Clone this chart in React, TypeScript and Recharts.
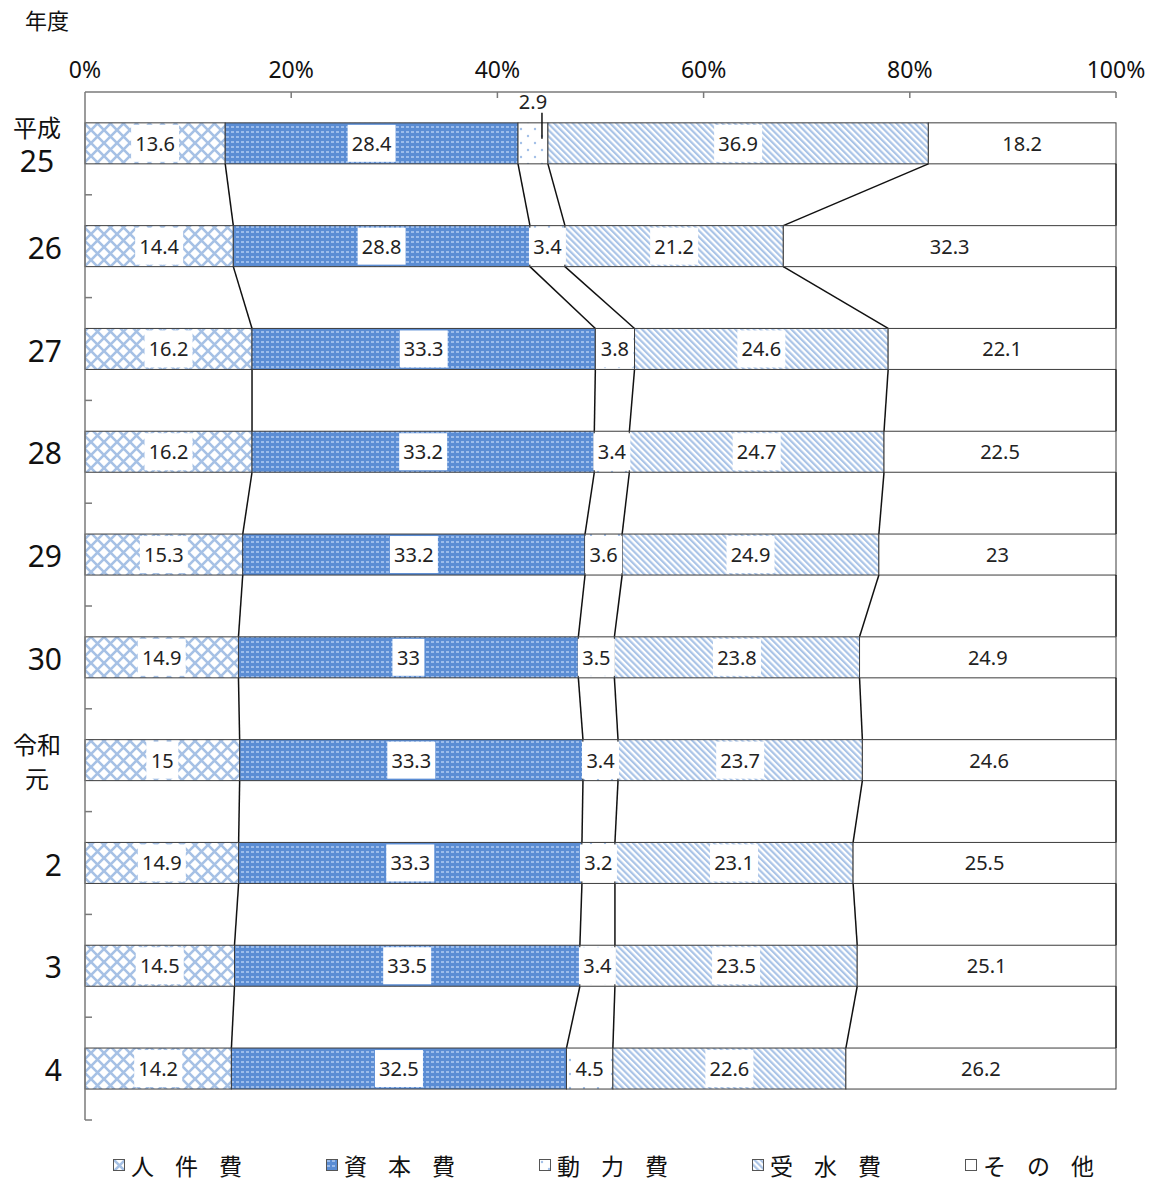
import { BarChart, Bar, XAxis, YAxis, LabelList } from "recharts"

const years = ["平成\n25", "26", "27", "28", "29", "30", "令和\n元", "2", "3", "4"]
const personnel = [13.6, 14.4, 16.2, 16.2, 15.3, 14.9, 15, 14.9, 14.5, 14.2]
const capital = [28.4, 28.8, 33.3, 33.2, 33.2, 33, 33.3, 33.3, 33.5, 32.5]
const power = [2.9, 3.4, 3.8, 3.4, 3.6, 3.5, 3.4, 3.2, 3.4, 4.5]
const water = [36.9, 21.2, 24.6, 24.7, 24.9, 23.8, 23.7, 23.1, 23.5, 22.6]
const other = [18.2, 32.3, 22.1, 22.5, 23, 24.9, 24.6, 25.5, 25.1, 26.2]
const xTicks = [0, 0.2, 0.4, 0.6, 0.8, 1]

const seriesList = [
  { key: "personnel", name: "人件費", values: personnel, fill: "url(#patCross)" },
  { key: "capital", name: "資本費", values: capital, fill: "url(#patCapital)" },
  { key: "power", name: "動力費", values: power, fill: "url(#patDots)" },
  { key: "water", name: "受水費", values: water, fill: "url(#patStripe)" },
  { key: "other", name: "その他", values: other, fill: "#ffffff" },
]

const data = years.map((year, i) => ({
  year,
  personnel: personnel[i],
  capital: capital[i],
  power: power[i],
  water: water[i],
  other: other[i],
}))

// cumulative share at each segment boundary, per row (same as stackOffset="expand")
const boundaries = years.map((_, i) => {
  const vals = seriesList.map((s) => s.values[i])
  const total = vals.reduce((a, b) => a + b, 0)
  let acc = 0
  return vals.map((v) => {
    acc += v
    return acc / total
  })
})

// chart layout
const W = 1158
const H = 1182
const M = { top: 0, right: 42, bottom: 62, left: 0 }
const X_AXIS_H = 92
const Y_AXIS_W = 85
const PLOT_LEFT = M.left + Y_AXIS_W
const PLOT_W = W - PLOT_LEFT - M.right
const PLOT_H = H - M.top - X_AXIS_H - M.bottom
const STEP = PLOT_H / years.length

const font = "'Noto Sans', 'Noto Sans CJK JP', sans-serif"
const jpFont = "'Noto Sans CJK JP', 'Noto Sans', sans-serif"
const axisColor = "#7a7a7a"

function YearTick(props: any) {
  const { x, y, payload } = props
  const lines = String(payload.value).split("\n")
  const tickY = y + STEP / 2
  const tick = <line x1={PLOT_LEFT} y1={tickY} x2={PLOT_LEFT + 7} y2={tickY} stroke={axisColor} strokeWidth={1.5} />
  if (lines.length === 2) {
    return (
      <g>
        {tick}
        <text x={x - 25} y={y - 17} textAnchor="middle" dominantBaseline="central" fontSize={24} fontFamily={jpFont} fill="#111">
          {lines[0]}
        </text>
        <text
          x={x - 25}
          y={y + 17}
          textAnchor="middle"
          dominantBaseline="central"
          fontSize={lines[1] === "元" ? 24 : 30}
          fontFamily={lines[1] === "元" ? jpFont : font}
          fill="#111"
        >
          {lines[1]}
        </text>
      </g>
    )
  }
  return (
    <g>
      {tick}
      <text x={x} y={y + 1} textAnchor="end" dominantBaseline="central" fontSize={30} fontFamily={font} fill="#111">
        {lines[0]}
      </text>
    </g>
  )
}

function PercentTick(props: any) {
  const { x, y, payload } = props
  const axisY = M.top + X_AXIS_H
  return (
    <g>
      {payload.value > 0 && <line x1={x} y1={axisY} x2={x} y2={axisY + 6} stroke={axisColor} strokeWidth={1.5} />}
      <text x={x} y={y} textAnchor="middle" fontSize={23} fontFamily={font} fill="#111">
        {`${Math.round(payload.value * 100)}%`}
      </text>
    </g>
  )
}

// bar segment plus the series line down to the same boundary in the next row
function SegmentShape(props: any, k: number) {
  const { x, y, width, height, index, fill } = props
  const bg = props.background && props.background.width ? props.background : { x: PLOT_LEFT, width: PLOT_W }
  const next = boundaries[index + 1]
  return (
    <g>
      <rect x={x} y={y} width={width} height={height} fill={fill} stroke="#3c3c3c" strokeWidth={1} />
      {next && (
        <line
          x1={x + width}
          y1={y + height}
          x2={bg.x + next[k] * bg.width}
          y2={y + STEP}
          stroke="#111"
          strokeWidth={1.5}
        />
      )}
    </g>
  )
}

function ValueLabel(props: any) {
  const vb = props.viewBox && props.viewBox.width !== undefined ? props.viewBox : props
  const { x, y, width, height } = vb
  const raw = props.index !== undefined ? props.values[props.index] : props.value
  const text = String(raw)
  const cx = x + width / 2
  const cy = y + height / 2
  if (raw < 3) {
    return (
      <g>
        <text x={cx} y={y - 21} textAnchor="middle" dominantBaseline="central" fontSize={20} fontFamily={font} fill="#222">
          {text}
        </text>
        <line x1={cx + 9} y1={y - 10} x2={cx + 9} y2={y + 16} stroke="#111" strokeWidth={1.5} />
      </g>
    )
  }
  const digits = text.replace(".", "").length
  const w = digits * 11 + (text.includes(".") ? 5 : 0) + 10
  return (
    <g>
      <rect x={cx - w / 2} y={y + 2} width={w} height={height - 4} fill="#ffffff" />
      <text x={cx} y={cy} textAnchor="middle" dominantBaseline="central" fontSize={20} fontFamily={font} fill="#222">
        {text}
      </text>
    </g>
  )
}

function Patterns() {
  return (
    <defs>
      <pattern id="patCross" patternUnits="userSpaceOnUse" width={13} height={13}>
        <rect width={13} height={13} fill="#ffffff" />
        <path d="M-2,-2 L15,15 M15,-2 L-2,15" stroke="#a6c1e5" strokeWidth={2.6} />
      </pattern>
      <pattern id="patCapital" patternUnits="userSpaceOnUse" width={5} height={5}>
        <rect width={5} height={5} fill="#5b8dd4" />
        <rect x={1} y={1} width={3} height={2} fill="#9cbcea" />
      </pattern>
      <pattern id="patDots" patternUnits="userSpaceOnUse" width={14} height={14}>
        <rect width={14} height={14} fill="#ffffff" />
        <circle cx={3} cy={3} r={1.2} fill="#a3c0e8" />
        <circle cx={10} cy={10} r={1.2} fill="#a3c0e8" />
      </pattern>
      <pattern id="patStripe" patternUnits="userSpaceOnUse" width={4.4} height={4.4} patternTransform="rotate(-45)">
        <rect width={4.4} height={4.4} fill="#ffffff" />
        <rect x={0} y={0} width={2.2} height={4.4} fill="#aac4e7" />
      </pattern>
    </defs>
  )
}

export default function App() {
  return (
    <div style={{ position: "absolute", left: 0, top: 0, width: W, height: H, background: "#fff", overflow: "hidden" }}>
      <div style={{ position: "absolute", left: 25, top: 6, fontSize: 22, lineHeight: "26px", fontFamily: jpFont, color: "#111" }}>
        年度
      </div>
      <BarChart
        width={W}
        height={H}
        data={data}
        layout="vertical"
        stackOffset="expand"
        barCategoryGap="30%"
        margin={M}
      >
        <Patterns />
        <XAxis
          type="number"
          orientation="top"
          domain={[0, 1]}
          ticks={xTicks}
          height={X_AXIS_H}
          tickLine={false}
          tickSize={0}
          tickMargin={14}
          axisLine={{ stroke: axisColor, strokeWidth: 1.5 }}
          tick={<PercentTick />}
          interval={0}
        />
        <YAxis
          type="category"
          dataKey="year"
          width={Y_AXIS_W}
          axisLine={{ stroke: axisColor, strokeWidth: 1.5 }}
          tickLine={false}
          tickSize={0}
          tickMargin={23}
          tick={<YearTick />}
          interval={0}
        />
        {seriesList.map((s, k) => (
          <Bar
            key={s.key}
            dataKey={s.key}
            name={s.name}
            stackId="a"
            fill={s.fill}
            shape={(p: any) => SegmentShape(p, k)}
            isAnimationActive={false}
          >
            <LabelList dataKey={s.key} content={(p: any) => <ValueLabel {...p} values={s.values} />} />
          </Bar>
        ))}
      </BarChart>
      <div style={{ position: "absolute", left: 0, top: 1148, width: W, height: 34 }}>
        {seriesList.map((s, i) => (
          <div
            key={s.key}
            style={{
              position: "absolute",
              left: 113 + i * 213,
              top: 0,
              height: 34,
              display: "flex",
              alignItems: "center",
              whiteSpace: "nowrap",
            }}
          >
            <svg width={12} height={12} style={{ display: "block", flex: "none" }}>
              <rect x={0.5} y={0.5} width={11} height={11} fill={s.fill} stroke="#555" strokeWidth={1} />
            </svg>
            <span style={{ marginLeft: 6, fontSize: 23, lineHeight: "34px", fontFamily: jpFont, letterSpacing: 21, color: "#111" }}>
              {s.name}
            </span>
          </div>
        ))}
      </div>
    </div>
  )
}
